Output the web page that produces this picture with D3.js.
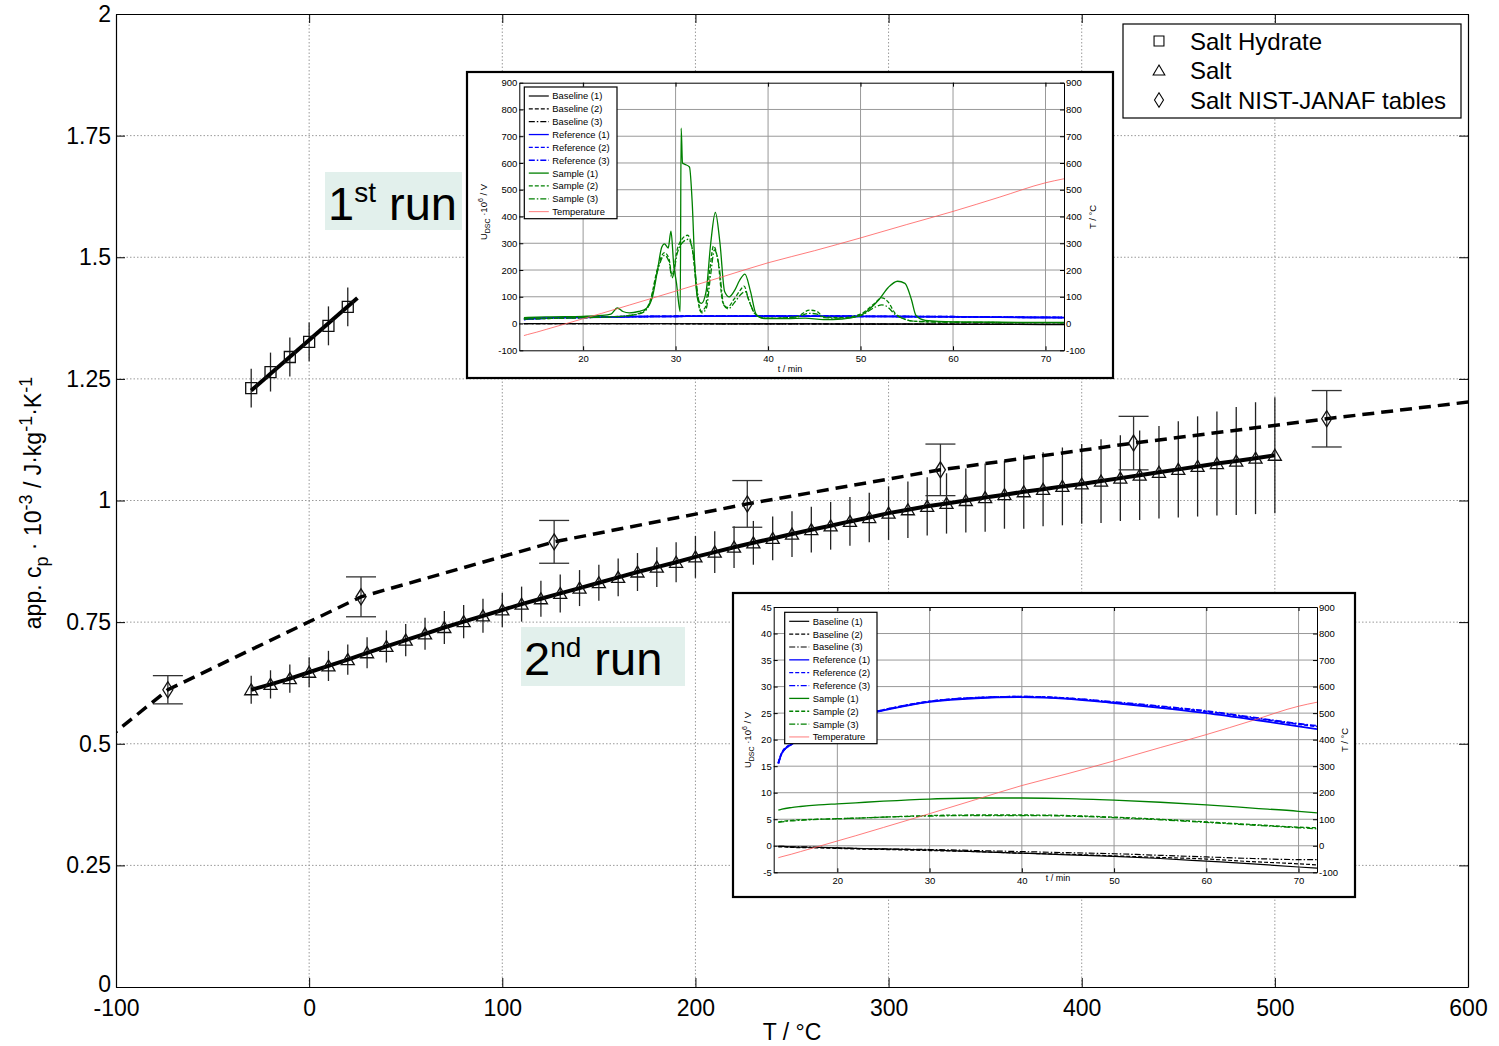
<!DOCTYPE html>
<html>
<head>
<meta charset="utf-8">
<script src="https://cdn.jsdelivr.net/npm/d3@7"></script>
<style>
body { margin: 0; background: #fff; }
svg { display: block; font-family: "Liberation Sans", Arial, sans-serif; }
</style>
</head>
<body>
<svg id="chart" width="1499" height="1046"></svg>
<script>
// ---- main chart data (T in °C, cp in kJ/kg/K) ----
const hydrateT = [-30, -20, -10, 0, 10, 20];
const hydrateCp = [1.231, 1.264, 1.295, 1.326, 1.359, 1.398];
const hydrateErr = [0.04, 0.04, 0.04, 0.04, 0.04, 0.04];
const hydrateFitT = [-30, 25];
const hydrateFitCp = [1.226, 1.416];

const saltT = [-30, -20, -10, 0, 10, 20, 30, 40, 50, 60, 70, 80, 90, 100, 110, 120, 130, 140, 150, 160,
	170, 180, 190, 200, 210, 220, 230, 240, 250, 260, 270, 280, 290, 300, 310, 320, 330, 340, 350, 360,
	370, 380, 390, 400, 410, 420, 430, 440, 450, 460, 470, 480, 490, 500];
const saltCp = [0.611, 0.622, 0.634, 0.647, 0.660, 0.673, 0.687, 0.700, 0.713, 0.726, 0.739, 0.751, 0.763, 0.775,
	0.787, 0.798, 0.809, 0.820, 0.831, 0.842, 0.853, 0.863, 0.873, 0.884, 0.894, 0.904, 0.913, 0.922, 0.931,
	0.940, 0.948, 0.957, 0.965, 0.974, 0.981, 0.988, 0.994, 1.000, 1.006, 1.012, 1.018, 1.023, 1.029, 1.034,
	1.040, 1.046, 1.052, 1.058, 1.064, 1.070, 1.076, 1.081, 1.087, 1.093];
const saltErr = [0.029, 0.029, 0.029, 0.031, 0.031, 0.031, 0.032, 0.033, 0.033, 0.033, 0.034, 0.034, 0.035, 0.035,
	0.036, 0.037, 0.039, 0.037, 0.037, 0.039, 0.039, 0.041, 0.041, 0.043, 0.043, 0.043, 0.045, 0.045, 0.047,
	0.047, 0.049, 0.050, 0.051, 0.055, 0.058, 0.060, 0.062, 0.066, 0.070, 0.070, 0.076, 0.076, 0.080, 0.082,
	0.086, 0.088, 0.092, 0.095, 0.099, 0.103, 0.107, 0.111, 0.115, 0.119];

const nistLineT = [-173.15, -73.15, 26.85, 126.85, 226.85, 326.85, 426.85, 526.85, 626.85];
const nistLineCp = [0.29, 0.611, 0.802, 0.915, 0.993, 1.063, 1.118, 1.168, 1.215];
const nistT = [-73.15, 26.85, 126.85, 226.85, 326.85, 426.85, 526.85];
const nistCp = [0.611, 0.802, 0.915, 0.993, 1.063, 1.118, 1.168];
const nistErr = [0.029, 0.041, 0.044, 0.048, 0.053, 0.055, 0.058];

const xTicks = [-100, 0, 100, 200, 300, 400, 500, 600];
const yTicks = [0, 0.25, 0.5, 0.75, 1, 1.25, 1.5, 1.75, 2];
const legendLabels = ['Salt Hydrate', 'Salt', 'Salt NIST-JANAF tables'];

// ---- DSC inset data (t in min) ----
const dscTimeTicks = [20, 30, 40, 50, 60, 70];
const dscLegend = ['Baseline (1)', 'Baseline (2)', 'Baseline (3)', 'Reference (1)', 'Reference (2)',
	'Reference (3)', 'Sample (1)', 'Sample (2)', 'Sample (3)', 'Temperature'];

const dscT = [13.6, 14, 15, 16, 18, 20, 22, 25, 30, 35, 40, 45, 50, 55, 60, 65, 70, 72];
const baseline1 = [-0.1, -0.1, -0.2, -0.25, -0.3, -0.4, -0.5, -0.6, -0.8, -1.1, -1.4, -1.7, -2.0, -2.4, -2.9, -3.4, -4.0, -4.2];
const baseline2 = [-0.2, -0.2, -0.3, -0.35, -0.4, -0.5, -0.6, -0.7, -0.9, -1.1, -1.4, -1.6, -1.9, -2.2, -2.5, -3.0, -3.4, -3.6];
const baseline3 = [-0.1, -0.1, -0.2, -0.2, -0.3, -0.4, -0.5, -0.6, -0.7, -0.9, -1.1, -1.3, -1.5, -1.8, -2.1, -2.4, -2.6, -2.6];
const reference1 = [15.5, 17.5, 19.1, 20.2, 21.8, 23.2, 24.3, 25.5, 27.1, 27.8, 28.0, 27.7, 26.9, 26.0, 25.0, 23.8, 22.5, 22.0];
const reference2 = [15.6, 17.6, 19.2, 20.3, 21.9, 23.3, 24.4, 25.6, 27.2, 27.9, 28.1, 27.8, 27.0, 26.2, 25.3, 24.1, 22.9, 22.5];
const reference3 = [15.5, 17.5, 19.1, 20.2, 21.8, 23.3, 24.4, 25.6, 27.2, 27.9, 28.1, 27.8, 27.1, 26.3, 25.4, 24.2, 23.0, 22.6];
const temperature = [-45, -41, -32, -22, -2, 18, 38, 69, 121, 174, 227, 272, 320, 370, 419, 472, 526, 541];
// 2nd run samples
const run2Sample1 = [6.7, 6.9, 7.2, 7.4, 7.7, 7.9, 8.1, 8.4, 8.8, 9.0, 9.0, 8.9, 8.6, 8.2, 7.7, 7.1, 6.5, 6.2];
const run2Sample2 = [4.5, 4.6, 4.8, 4.9, 5.0, 5.1, 5.2, 5.4, 5.7, 5.8, 5.8, 5.7, 5.4, 5.0, 4.5, 4.0, 3.5, 3.4];
const run2Sample3 = [4.4, 4.5, 4.7, 4.8, 5.0, 5.1, 5.2, 5.4, 5.6, 5.7, 5.7, 5.6, 5.3, 4.9, 4.4, 3.9, 3.4, 3.2];
// 1st run samples
const run1S1T = [13.6, 16, 20, 22, 23, 23.7, 24.3, 25, 26, 26.8, 27.5, 28, 28.5, 28.8, 29.2, 29.5, 29.8, 30.1, 30.5,
	30.6, 30.75, 31.0, 31.5, 31.8, 32.1, 32.4, 32.8, 33.3, 33.8, 34.3, 34.8, 35.3, 35.8, 36.4, 36.9, 37.5, 38.1,
	38.7, 39.3, 40, 42, 44, 46, 48, 50, 51, 52, 53, 54, 54.8, 55.5, 56, 57, 60, 65, 72];
const run1S1V = [22, 25, 27, 30, 35, 58, 45, 40, 45, 55, 100, 190, 285, 298, 282, 345, 220, 150, 45,
	730, 600, 595, 585, 450, 200, 90, 75, 120, 300, 415, 300, 120, 100, 125, 160, 185, 120,
	35, 20, 18, 18, 20, 15, 17, 30, 55, 90, 135, 158, 150, 90, 30, 12, 6, 5, 4];
const run1S2T = [13.6, 20, 23, 25, 26.5, 27.3, 28, 28.8, 29.3, 29.6, 30.2, 30.8, 31.3, 31.8, 32.3, 32.7, 33.2, 33.7,
	34.1, 34.6, 35.1, 35.6, 36.3, 37.0, 37.4, 37.9, 38.5, 39.3, 40, 43, 44.5, 45.3, 46, 48, 50, 51.5, 52.3, 53,
	53.7, 54.5, 56, 60, 72];
const run1S2V = [17, 22, 25, 30, 45, 90, 200, 265, 240, 180, 280, 320, 330, 280, 120, 45, 60, 200,
	290, 230, 80, 60, 90, 125, 140, 90, 40, 22, 20, 25, 50, 45, 25, 22, 35, 75, 96, 80,
	40, 20, 8, 5, 3];
const run1S3T = [13.6, 20, 23, 25, 26.5, 27.3, 28, 28.8, 29.3, 29.6, 30.2, 30.8, 31.4, 31.9, 32.4, 32.8, 33.3, 33.8,
	34.2, 34.7, 35.2, 35.7, 36.4, 37.1, 37.5, 38.0, 38.6, 39.3, 40, 43, 44.5, 45.3, 46, 48, 50, 51.5, 52.3, 53,
	53.7, 54.5, 56, 60, 72];
const run1S3V = [17, 22, 25, 30, 42, 85, 190, 255, 230, 170, 265, 305, 315, 260, 110, 40, 55, 185,
	275, 215, 70, 55, 80, 110, 120, 80, 35, 22, 20, 24, 38, 35, 22, 20, 30, 60, 70, 60,
	35, 20, 8, 5, 3];

const svg = d3.select('#chart');
const defs = svg.append('defs');

// main plot
const mLeft = 116, mRight = 1468, mTop = 14, mBottom = 987;
const xScale = d3.scaleLinear().domain([-100, 600]).range([mLeft, mRight]);
const yScale = d3.scaleLinear().domain([0, 2]).range([mBottom, mTop]);

defs.append('clipPath').attr('id', 'mainClip')
	.append('rect').attr('x', mLeft).attr('y', mTop).attr('width', mRight - mLeft).attr('height', mBottom - mTop);

// grid
const grid = svg.append('g').attr('stroke', '#9a9a9a').attr('stroke-width', 1).attr('stroke-dasharray', '1.5,2');
grid.selectAll('.gx').data(xTicks.slice(1, -1)).join('line')
	.attr('x1', d => xScale(d)).attr('x2', d => xScale(d)).attr('y1', mTop).attr('y2', mBottom);
grid.selectAll('.gy').data(yTicks.slice(1, -1)).join('line')
	.attr('y1', d => yScale(d)).attr('y2', d => yScale(d)).attr('x1', mLeft).attr('x2', mRight);

// axes (MATLAB style: ticks inward, box)
const fmt = d => String(d);
function styleAxis(g, fontSize) {
	g.select('.domain').attr('stroke', '#000').attr('stroke-width', 1.2);
	g.selectAll('.tick line').attr('stroke', '#000');
	g.selectAll('.tick text').attr('fill', '#000').style('font-size', fontSize + 'px')
		.style('font-family', '"Liberation Sans", Arial, sans-serif');
}
svg.append('g').attr('transform', `translate(0,${mBottom})`)
	.call(d3.axisBottom(xScale).tickValues(xTicks).tickFormat(fmt).tickSizeInner(-9).tickSizeOuter(0).tickPadding(13))
	.call(g => styleAxis(g, 23));
svg.append('g').attr('transform', `translate(0,${mTop})`)
	.call(d3.axisTop(xScale).tickValues(xTicks).tickFormat('').tickSizeInner(-9).tickSizeOuter(0))
	.call(g => styleAxis(g, 23));
svg.append('g').attr('transform', `translate(${mLeft},0)`)
	.call(d3.axisLeft(yScale).tickValues(yTicks).tickFormat(fmt).tickSizeInner(-9).tickSizeOuter(0).tickPadding(5))
	.call(g => styleAxis(g, 23))
	.call(g => g.selectAll('.tick text').filter(d => d === 0).attr('dy', '0.2em'));
svg.append('g').attr('transform', `translate(${mRight},0)`)
	.call(d3.axisRight(yScale).tickValues(yTicks).tickFormat('').tickSizeInner(-9).tickSizeOuter(0))
	.call(g => styleAxis(g, 23));

// axis labels
svg.append('text').attr('x', 792).attr('y', 1040).attr('text-anchor', 'middle')
	.style('font-size', '23px').text('T / °C');
const yl = svg.append('text').attr('transform', 'translate(41,503) rotate(-90)')
	.attr('text-anchor', 'middle').style('font-size', '23px');
yl.append('tspan').text('app. c');
yl.append('tspan').attr('dy', 7).style('font-size', '18px').text('p');
yl.append('tspan').attr('dy', -7).text(' · 10');
yl.append('tspan').attr('dy', -9).style('font-size', '18px').text('-3');
yl.append('tspan').attr('dy', 9).text(' / J·kg');
yl.append('tspan').attr('dy', -9).style('font-size', '18px').text('-1');
yl.append('tspan').attr('dy', 9).text('·K');
yl.append('tspan').attr('dy', -9).style('font-size', '18px').text('-1');

// data layer
const plot = svg.append('g').attr('clip-path', 'url(#mainClip)');
const line = d3.line().x(d => xScale(d[0])).y(d => yScale(d[1]));

// error bars
plot.append('g').attr('stroke', '#222').attr('stroke-width', 1.3)
	.selectAll('line').data(d3.zip(hydrateT, hydrateCp, hydrateErr)).join('line')
	.attr('x1', d => xScale(d[0])).attr('x2', d => xScale(d[0]))
	.attr('y1', d => yScale(d[1] - d[2])).attr('y2', d => yScale(d[1] + d[2]));
plot.append('g').attr('stroke', '#222').attr('stroke-width', 1.3)
	.selectAll('line').data(d3.zip(saltT, saltCp, saltErr)).join('line')
	.attr('x1', d => xScale(d[0])).attr('x2', d => xScale(d[0]))
	.attr('y1', d => yScale(d[1] - d[2])).attr('y2', d => yScale(d[1] + d[2]));
const nistBars = plot.append('g').attr('stroke', '#333').attr('stroke-width', 1.3)
	.selectAll('g').data(d3.zip(nistT, nistCp, nistErr)).join('g');
nistBars.append('line')
	.attr('x1', d => xScale(d[0])).attr('x2', d => xScale(d[0]))
	.attr('y1', d => yScale(d[1] - d[2])).attr('y2', d => yScale(d[1] + d[2]));
[-1, 1].forEach(s => {
	nistBars.append('line')
		.attr('x1', d => xScale(d[0]) - 15).attr('x2', d => xScale(d[0]) + 15)
		.attr('y1', d => yScale(d[1] + s * d[2])).attr('y2', d => yScale(d[1] + s * d[2]));
});

// lines
plot.append('path').datum(d3.zip(nistLineT, nistLineCp)).attr('d', line)
	.attr('fill', 'none').attr('stroke', '#000').attr('stroke-width', 3.5).attr('stroke-dasharray', '12,7');
plot.append('path').datum(d3.zip(hydrateFitT, hydrateFitCp)).attr('d', line)
	.attr('fill', 'none').attr('stroke', '#000').attr('stroke-width', 4);
plot.append('path').datum(d3.zip(saltT, saltCp)).attr('d', line)
	.attr('fill', 'none').attr('stroke', '#000').attr('stroke-width', 4);

// markers
const squarePath = 'M-5.5,-5.5H5.5V5.5H-5.5Z';
const trianglePath = 'M0,-6L6.5,5H-6.5Z';
const diamondPath = 'M0,-8L5,0L0,8L-5,0Z';
function markers(T, C, path) {
	plot.append('g').selectAll('path').data(d3.zip(T, C)).join('path')
		.attr('transform', d => `translate(${xScale(d[0])},${yScale(d[1])})`)
		.attr('d', path).attr('fill', 'none').attr('stroke', '#111').attr('stroke-width', 1.3);
}
markers(hydrateT, hydrateCp, squarePath);
markers(saltT, saltCp, trianglePath);
markers(nistT, nistCp, diamondPath);

// run labels
function runLabel(x, y, w, h, num, sup) {
	svg.append('rect').attr('x', x).attr('y', y).attr('width', w).attr('height', h).attr('fill', '#e2f0ec');
	const t = svg.append('text').attr('x', x + 3).attr('y', y + 48).style('font-size', '47px');
	t.append('tspan').text(num);
	t.append('tspan').attr('dy', -18).style('font-size', '28px').text(sup);
	t.append('tspan').attr('dy', 18).text(' run');
}
runLabel(325, 172, 137, 58, '1', 'st');
runLabel(521, 627, 164, 59, '2', 'nd');

// legend
const lg = svg.append('g');
lg.append('rect').attr('x', 1123).attr('y', 24).attr('width', 338).attr('height', 94)
	.attr('fill', '#fff').attr('stroke', '#000').attr('stroke-width', 1.2);
const legendMarks = [squarePath, trianglePath, diamondPath];
legendLabels.forEach((name, i) => {
	const yy = 41 + i * 29.5;
	lg.append('path').attr('transform', `translate(1159,${yy}) scale(0.9)`).attr('d', legendMarks[i])
		.attr('fill', 'none').attr('stroke', '#000').attr('stroke-width', 1.2);
	lg.append('text').attr('x', 1190).attr('y', yy + 8.5).style('font-size', '24px').text(name);
});

// ---- DSC insets ----
const dashSolid = null, dashDash = '4,2', dashDot = '6,2,1.5,2';
function drawInset(cfg) {
	const g = svg.append('g');
	g.append('rect').attr('x', cfg.box[0]).attr('y', cfg.box[1])
		.attr('width', cfg.box[2] - cfg.box[0]).attr('height', cfg.box[3] - cfg.box[1])
		.attr('fill', '#fff').attr('stroke', '#000').attr('stroke-width', 2.2);
	const [l, t, r, b] = cfg.plot;
	const xs = d3.scaleLinear().domain([13.1, 72]).range([l, r]);
	const ys = d3.scaleLinear().domain(cfg.yDomain).range([b, t]);
	const ysR = d3.scaleLinear().domain([-100, 900]).range([b, t]);

	// grid
	const gg = g.append('g').attr('stroke', '#999').attr('stroke-width', 1);
	gg.selectAll('.vx').data(dscTimeTicks).join('line')
		.attr('x1', d => xs(d)).attr('x2', d => xs(d)).attr('y1', t).attr('y2', b);
	gg.selectAll('.hy').data(cfg.yTicks.slice(1, -1)).join('line')
		.attr('y1', d => ys(d)).attr('y2', d => ys(d)).attr('x1', l).attr('x2', r);

	// axes
	const fs = 9.5;
	g.append('g').attr('transform', `translate(0,${b})`)
		.call(d3.axisBottom(xs).tickValues(dscTimeTicks).tickFormat(fmt).tickSizeInner(-4).tickSizeOuter(0).tickPadding(5))
		.call(a => styleAxis(a, fs));
	g.append('g').attr('transform', `translate(0,${t})`)
		.call(d3.axisTop(xs).tickValues(dscTimeTicks).tickFormat('').tickSizeInner(-4).tickSizeOuter(0))
		.call(a => styleAxis(a, fs));
	g.append('g').attr('transform', `translate(${l},0)`)
		.call(d3.axisLeft(ys).tickValues(cfg.yTicks).tickFormat(fmt).tickSizeInner(-4).tickSizeOuter(0).tickPadding(2))
		.call(a => styleAxis(a, fs));
	g.append('g').attr('transform', `translate(${r},0)`)
		.call(d3.axisRight(ysR).tickValues([-100, 0, 100, 200, 300, 400, 500, 600, 700, 800, 900]).tickFormat(fmt)
			.tickSizeInner(-4).tickSizeOuter(0).tickPadding(2))
		.call(a => styleAxis(a, fs));
	g.selectAll('.domain').attr('stroke-width', 1);

	// series
	const cid = 'clip' + cfg.id;
	defs.append('clipPath').attr('id', cid).append('rect')
		.attr('x', l).attr('y', t).attr('width', r - l).attr('height', b - t);
	const sg = g.append('g').attr('clip-path', `url(#${cid})`);
	cfg.series.forEach(s => {
		const sc = s.right ? ysR : ys;
		sg.append('path').datum(d3.zip(s.t, s.v))
			.attr('d', d3.line().curve(d3.curveMonotoneX).x(d => xs(d[0])).y(d => sc(d[1])))
			.attr('fill', 'none').attr('stroke', s.color).attr('stroke-width', s.w)
			.attr('stroke-dasharray', s.dash);
	});

	// legend
	const [lx, ly, lw, lh] = cfg.legend;
	g.append('rect').attr('x', lx).attr('y', ly).attr('width', lw).attr('height', lh)
		.attr('fill', '#fff').attr('stroke', '#000').attr('stroke-width', 1.2);
	dscLegend.forEach((name, i) => {
		const s = cfg.series[i];
		const yy = ly + 9 + i * 12.85;
		g.append('line').attr('x1', lx + 4.5).attr('x2', lx + 24.5).attr('y1', yy).attr('y2', yy)
			.attr('stroke', s.color).attr('stroke-width', Math.min(s.w, 1.3)).attr('stroke-dasharray', s.dash);
		g.append('text').attr('x', lx + 28).attr('y', yy + 3.4).style('font-size', '9.4px').text(name);
	});

	// labels
	g.append('text').attr('x', cfg.tLabel[0]).attr('y', cfg.tLabel[1]).attr('text-anchor', 'middle')
		.style('font-size', '9px').text('t / min');
	const u = g.append('text').attr('transform', `translate(${cfg.uLabel[0]},${cfg.uLabel[1]}) rotate(-90)`)
		.attr('text-anchor', 'middle').style('font-size', '9.5px');
	u.append('tspan').text('U');
	u.append('tspan').attr('dy', 3).style('font-size', '7px').text('DSC');
	u.append('tspan').attr('dy', -3).text(' ·10');
	u.append('tspan').attr('dy', -4).style('font-size', '7px').text('6');
	u.append('tspan').attr('dy', 4).text(' / V');
	g.append('text').attr('transform', `translate(${cfg.TLabel[0]},${cfg.TLabel[1]}) rotate(-90)`)
		.attr('text-anchor', 'middle').style('font-size', '9.5px').text('T / °C');
}

function commonSeries(s1, s2, s3) {
	return [
		{ t: dscT, v: baseline1, color: '#000', dash: dashSolid, w: 1.2 },
		{ t: dscT, v: baseline2, color: '#000', dash: dashDash, w: 1.2 },
		{ t: dscT, v: baseline3, color: '#000', dash: dashDot, w: 1.2 },
		{ t: dscT, v: reference1, color: '#0000ff', dash: dashSolid, w: 1.8 },
		{ t: dscT, v: reference2, color: '#0000ff', dash: dashDash, w: 1.8 },
		{ t: dscT, v: reference3, color: '#0000ff', dash: dashDot, w: 1.8 },
		s1, s2, s3,
		{ t: dscT, v: temperature, color: '#ff5a5a', dash: dashSolid, w: 0.8, right: true }
	];
}

drawInset({
	id: 1,
	box: [467, 72, 1113, 378],
	plot: [519.3, 82.7, 1064, 350.3],
	yDomain: [-100, 900],
	yTicks: [-100, 0, 100, 200, 300, 400, 500, 600, 700, 800, 900],
	legend: [524.3, 87, 92.7, 131.7],
	tLabel: [790, 372],
	uLabel: [487, 212],
	TLabel: [1096, 217],
	series: commonSeries(
		{ t: run1S1T, v: run1S1V, color: '#008000', dash: dashSolid, w: 1.3 },
		{ t: run1S2T, v: run1S2V, color: '#008000', dash: dashDash, w: 1.3 },
		{ t: run1S3T, v: run1S3V, color: '#008000', dash: dashDot, w: 1.3 })
});

drawInset({
	id: 2,
	box: [733, 593, 1355, 897],
	plot: [773.7, 607, 1317, 872.3],
	yDomain: [-5, 45],
	yTicks: [-5, 0, 5, 10, 15, 20, 25, 30, 35, 40, 45],
	legend: [784.7, 612.3, 92.3, 131.4],
	tLabel: [1058, 881],
	uLabel: [751, 740],
	TLabel: [1348, 740],
	series: commonSeries(
		{ t: dscT, v: run2Sample1, color: '#008000', dash: dashSolid, w: 1.3 },
		{ t: dscT, v: run2Sample2, color: '#008000', dash: dashDash, w: 1.3 },
		{ t: dscT, v: run2Sample3, color: '#008000', dash: dashDot, w: 1.3 })
});
</script>
</body>
</html>
